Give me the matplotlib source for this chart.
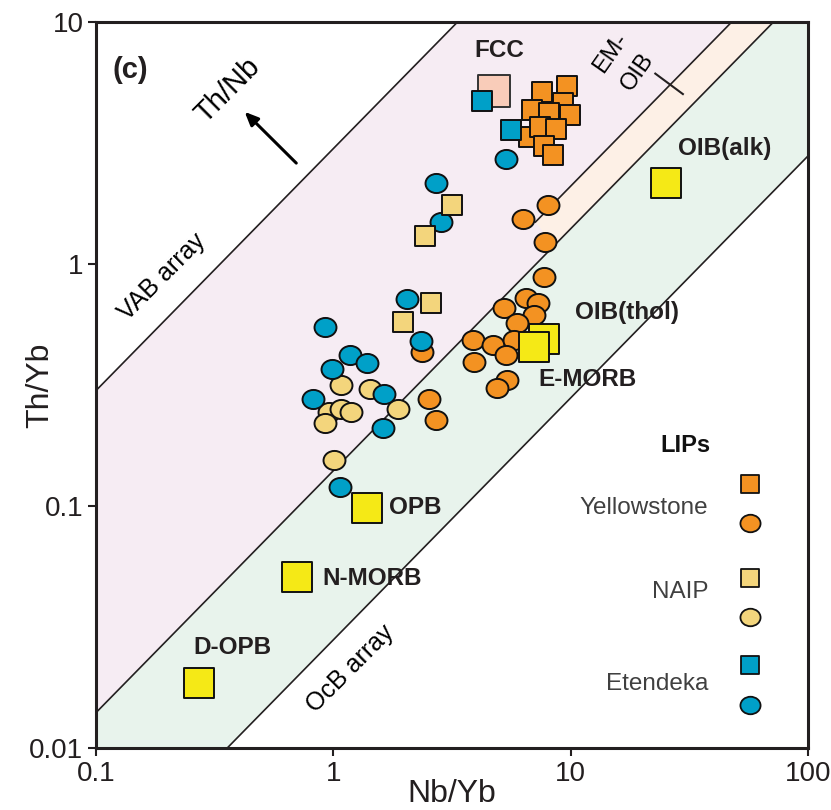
"""Th/Yb vs Nb/Yb discrimination diagram, panel (c)."""

import numpy as np
import matplotlib
matplotlib.use("Agg")
import matplotlib.pyplot as plt
from matplotlib.path import Path

plt.rcParams["font.family"] = ["Liberation Sans", "DejaVu Sans"]

# array boundaries as Th/Yb = k * Nb/Yb
VAB_UPPER = 3.0
EMOIB_UPPER = 0.21
MORB_UPPER = 0.14
MORB_LOWER = 0.028
EMOIB_START = 7.1

# reference compositions
ref_names = ["OIB(alk)", "OIB(thol)", "E-MORB", "OPB", "N-MORB", "D-OPB"]
ref_nb_yb = [25.3, 7.7, 7.0, 1.39, 0.706, 0.271]
ref_th_yb = [2.16, 0.49, 0.454, 0.098, 0.051, 0.0186]
fcc_nb_yb = [4.74]
fcc_th_yb = [5.19]

# Yellowstone
ys_sq_nb = [7.55, 9.62, 6.85, 9.25, 8.09, 9.9, 6.67, 7.41, 8.65, 7.71, 8.40]
ys_sq_th = [5.14, 5.45, 4.32, 4.62, 4.21, 4.13, 3.35, 3.68, 3.61, 3.08, 2.82]
ys_ci_nb = [2.37, 2.53, 2.71, 3.87, 3.91, 6.47, 7.26, 5.22, 7.0, 5.93, 4.70,
            5.77, 5.33, 5.38, 4.89, 8.0, 6.28, 7.78, 7.71]
ys_ci_th = [0.433, 0.277, 0.226, 0.485, 0.394, 0.724, 0.69, 0.658, 0.615, 0.570,
            0.462, 0.485, 0.421, 0.332, 0.308, 1.75, 1.53, 1.23, 0.883]

# NAIP
na_sq_nb = [3.16, 2.44, 2.58, 1.97]
na_sq_th = [1.75, 1.31, 0.69, 0.575]
na_ci_nb = [1.08, 1.43, 0.962, 1.08, 1.19, 0.925, 1.87, 1.01]
na_ci_th = [0.316, 0.304, 0.244, 0.252, 0.244, 0.220, 0.252, 0.155]

# Etendeka
et_sq_nb = [4.23, 5.60]
et_sq_th = [4.72, 3.58]
et_ci_nb = [2.71, 2.84, 2.05, 2.34, 0.925, 1.18, 0.99, 1.39, 1.64, 0.824,
            1.62, 1.07, 5.33]
et_ci_th = [2.16, 1.49, 0.717, 0.481, 0.550, 0.421, 0.368, 0.390, 0.290, 0.277,
            0.210, 0.120, 2.72]

ORANGE = "#f39222"
NAIP_C = "#f3d57c"
BLUE = "#00a0c8"
REF_YELLOW = "#f5e916"
FCC_C = "#f9ccb9"
TXT = "#231f20"

circ = Path.unit_circle()
ELLIPSE = Path(circ.vertices * np.array([1.0, 0.87]), circ.codes)


def main() -> None:
    fig = plt.figure(figsize=(8.31, 8.10), dpi=100)
    ax = fig.add_axes([0.1155, 0.0765, 0.857, 0.8963])
    ax.set_xscale("log")
    ax.set_yscale("log")
    ax.set_xlim(0.1, 100)
    ax.set_ylim(0.01, 10)

    x = np.logspace(-2, 3, 200)
    ax.fill_between(x, MORB_UPPER * x, VAB_UPPER * x, color="#f6ecf3", lw=0, zorder=0)
    ax.fill_between(x, MORB_LOWER * x, MORB_UPPER * x, color="#e8f3ec", lw=0, zorder=0)
    em_x = [EMOIB_START, 1000, 1000, 8.5]
    em_y = [EMOIB_UPPER * EMOIB_START, EMOIB_UPPER * 1000, MORB_UPPER * 1000, MORB_UPPER * 8.5]
    ax.fill(em_x, em_y, color="#fdf0e6", lw=0, zorder=0)

    for k in (VAB_UPPER, MORB_UPPER, MORB_LOWER):
        ax.plot(x, k * x, color="#231f20", lw=1.2, zorder=1)
    xb = np.logspace(np.log10(EMOIB_START), 3, 50)
    ax.plot(xb, EMOIB_UPPER * xb, color="#231f20", lw=1.2, zorder=1)
    # EM-OIB tick across the boundary
    xt = 25.8
    ax.plot([xt * 0.88, xt * 1.15], [EMOIB_UPPER * xt * 1.13, EMOIB_UPPER * xt * 0.93],
            color="#231f20", lw=1.5, zorder=1)

    kw = dict(edgecolors="#111111", linewidths=1.4, zorder=3)
    sq = 205
    ci = 250
    ax.scatter(ys_ci_nb, ys_ci_th, s=ci, marker=ELLIPSE, c=ORANGE, **kw)
    ax.scatter(na_ci_nb, na_ci_th, s=ci, marker=ELLIPSE, c=NAIP_C, **kw)
    ax.scatter(et_ci_nb, et_ci_th, s=ci, marker=ELLIPSE, c=BLUE, **kw)
    ax.scatter(fcc_nb_yb, fcc_th_yb, s=540, marker="s", c=FCC_C, edgecolors="#333333",
               linewidths=1.4, zorder=3)
    ax.scatter(ys_sq_nb, ys_sq_th, s=sq, marker="s", c=ORANGE, **kw)
    ax.scatter(na_sq_nb, na_sq_th, s=sq, marker="s", c=NAIP_C, **kw)
    ax.scatter(et_sq_nb, et_sq_th, s=sq, marker="s", c=BLUE, **kw)
    ax.scatter(ref_nb_yb, ref_th_yb, s=470, marker="s", c=REF_YELLOW, **kw)

    # labels for reference compositions (axes fraction positions)
    label_pos = {
        "OIB(alk)": (0.883, 0.826),
        "OIB(thol)": (0.746, 0.600),
        "E-MORB": (0.690, 0.507),
        "OPB": (0.449, 0.331),
        "N-MORB": (0.388, 0.234),
        "D-OPB": (0.192, 0.139),
    }
    for name in ref_names:
        px, py = label_pos[name]
        ax.text(px, py, name, transform=ax.transAxes, ha="center", va="center",
                fontsize=17.5, fontweight="bold", color=TXT, zorder=4)
    ax.text(0.567, 0.961, "FCC", transform=ax.transAxes, ha="center", va="center",
            fontsize=17.5, fontweight="bold", color=TXT)
    ax.text(0.048, 0.934, "(c)", transform=ax.transAxes, ha="center", va="center",
            fontsize=21, fontweight="bold", color=TXT)

    ax.text(0.185, 0.906, "Th/Nb", transform=ax.transAxes, ha="center", va="center",
            fontsize=21, rotation=45, color="black")
    ax.annotate("", xy=(0.206, 0.879), xytext=(0.284, 0.803), xycoords="axes fraction",
                arrowprops=dict(arrowstyle="-|>,head_length=0.8,head_width=0.35",
                                color="black", lw=2.2))
    ax.text(0.093, 0.649, "VAB array", transform=ax.transAxes, ha="center", va="center",
            fontsize=18, rotation=45, color="black")
    ax.text(0.357, 0.109, "OcB array", transform=ax.transAxes, ha="center", va="center",
            fontsize=18, rotation=45, color="black")
    ax.text(0.722, 0.958, "EM-", transform=ax.transAxes, ha="center", va="center",
            fontsize=17, rotation=55, color="black")
    ax.text(0.760, 0.931, "OIB", transform=ax.transAxes, ha="center", va="center",
            fontsize=17, rotation=55, color="black")

    # legend
    ax.text(0.827, 0.417, "LIPs", transform=ax.transAxes, ha="center", va="center",
            fontsize=17, fontweight="bold", color="#111111")
    groups = [("Yellowstone", ORANGE, 0.331, 0.364, 0.310),
              ("NAIP", NAIP_C, 0.215, 0.234, 0.180),
              ("Etendeka", BLUE, 0.088, 0.114, 0.059)]
    for name, col, ty, ys, yc in groups:
        ax.text(0.860, ty, name, transform=ax.transAxes, ha="right", va="center",
                fontsize=17.5, color="#404040")
        ax.scatter([0.919], [ys], s=170, marker="s", c=col, transform=ax.transAxes,
                   edgecolors="#111111", linewidths=1.3, zorder=3, clip_on=False)
        ax.scatter([0.919], [yc], s=210, marker=ELLIPSE, c=col, transform=ax.transAxes,
                   edgecolors="#111111", linewidths=1.3, zorder=3, clip_on=False)

    ax.set_xticks([0.1, 1, 10, 100])
    ax.set_xticklabels(["0.1", "1", "10", "100"])
    ax.set_yticks([0.01, 0.1, 1, 10])
    ax.set_yticklabels(["0.01", "0.1", "1", "10"])
    ax.minorticks_off()
    ax.tick_params(labelsize=20, length=6, width=1.5, colors="#231f20", pad=3)
    for sp in ax.spines.values():
        sp.set_linewidth(2.2)
        sp.set_color("#231f20")

    ax.set_xlabel("Nb/Yb", fontsize=23, color=TXT, va="center")
    ax.xaxis.set_label_coords(0.5, -0.063)
    ax.set_ylabel("Th/Yb", fontsize=23, color=TXT, va="center")
    ax.yaxis.set_label_coords(-0.078, 0.5)

    fig.savefig("out.png", dpi=100)


if __name__ == "__main__":
    main()
